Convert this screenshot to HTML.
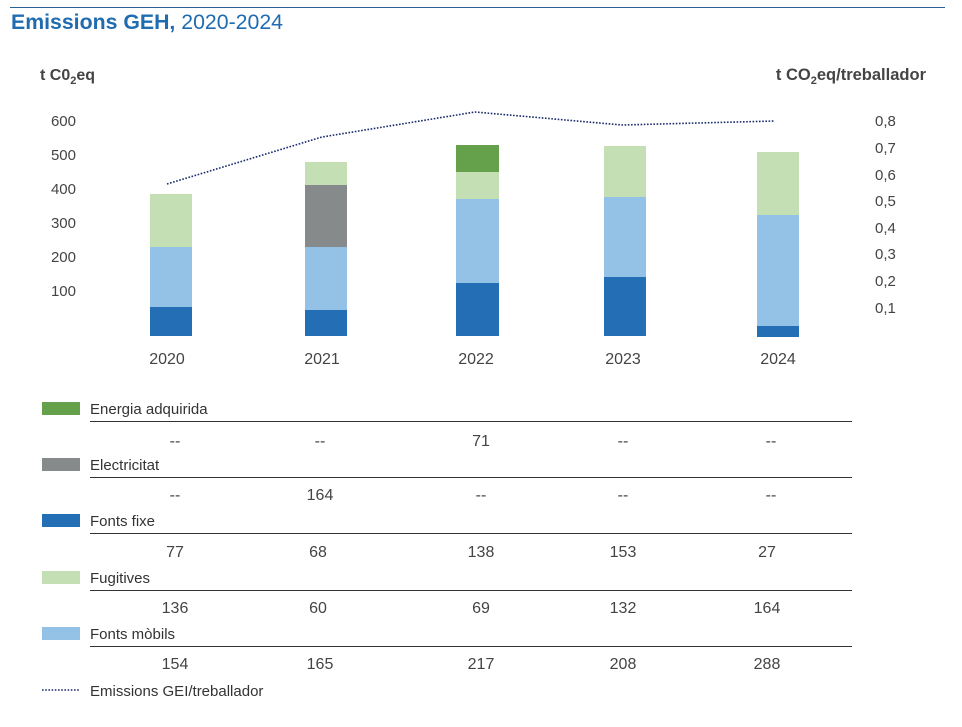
<!DOCTYPE html>
<html><head><meta charset="utf-8"><style>
body{margin:0;background:#fff;}
svg{display:block;font-family:"Liberation Sans",sans-serif;}
</style></head><body>
<svg width="962" height="727" viewBox="0 0 962 727" xmlns="http://www.w3.org/2000/svg">
<line x1="10" y1="7.5" x2="945" y2="7.5" stroke="#2a5f97" stroke-width="1"/>
<text x="11" y="29" font-size="21" fill="#1f6cb0" textLength="272" lengthAdjust="spacingAndGlyphs"><tspan font-weight="bold">Emissions GEH,</tspan> 2020-2024</text>
<text x="40" y="80" font-size="16" font-weight="bold" fill="#444">t C0<tspan font-size="11" dy="4">2</tspan><tspan dy="-4">eq</tspan></text>
<text x="926" y="80" font-size="16.5" font-weight="bold" fill="#444" text-anchor="end">t CO<tspan font-size="11" dy="4">2</tspan><tspan dy="-4">eq/treballador</tspan></text>
<g font-size="15" fill="#444" text-anchor="end">
<text x="76" y="126">600</text><text x="76" y="160">500</text><text x="76" y="194">400</text><text x="76" y="228">300</text><text x="76" y="262">200</text><text x="76" y="296">100</text>
</g>
<g font-size="15" fill="#444">
<text x="875" y="126">0,8</text><text x="875" y="153">0,7</text><text x="875" y="180">0,6</text><text x="875" y="206">0,5</text><text x="875" y="233">0,4</text><text x="875" y="259">0,3</text><text x="875" y="286">0,2</text><text x="875" y="313">0,1</text>
</g>
<g>
<rect x="150" y="194" width="42" height="53" fill="#c5dfb5"/><rect x="150" y="247" width="42" height="60" fill="#94c1e6"/><rect x="150" y="307" width="42" height="29" fill="#236eb5"/>
<rect x="305" y="162" width="42" height="23" fill="#c5dfb5"/><rect x="305" y="185" width="42" height="62" fill="#878a8b"/><rect x="305" y="247" width="42" height="63" fill="#94c1e6"/><rect x="305" y="310" width="42" height="26" fill="#236eb5"/>
<rect x="456" y="145" width="43" height="27" fill="#65a04a"/><rect x="456" y="172" width="43" height="27" fill="#c5dfb5"/><rect x="456" y="199" width="43" height="84" fill="#94c1e6"/><rect x="456" y="283" width="43" height="53" fill="#236eb5"/>
<rect x="604" y="146" width="42" height="51" fill="#c5dfb5"/><rect x="604" y="197" width="42" height="80" fill="#94c1e6"/><rect x="604" y="277" width="42" height="59" fill="#236eb5"/>
<rect x="757" y="152" width="42" height="63" fill="#c5dfb5"/><rect x="757" y="215" width="42" height="111" fill="#94c1e6"/><rect x="757" y="326" width="42" height="11" fill="#236eb5"/>
</g>
<polyline points="167,184 322,137 475,112 622,125 775,121" fill="none" stroke="#1a2a6c" stroke-width="1.6" stroke-dasharray="1.6,1.6"/>
<g font-size="16" fill="#444" text-anchor="middle">
<text x="167" y="364">2020</text><text x="322" y="364">2021</text><text x="476" y="364">2022</text><text x="623" y="364">2023</text><text x="778" y="364">2024</text>
</g>
<g font-size="15" fill="#333">
<rect x="42" y="402" width="38" height="13" fill="#65a04a"/><text x="90" y="414">Energia adquirida</text>
<line x1="90" y1="421.5" x2="852" y2="421.5" stroke="#333"/>
<rect x="42" y="458" width="38" height="13" fill="#878a8b"/><text x="90" y="470">Electricitat</text>
<line x1="90" y1="477.5" x2="852" y2="477.5" stroke="#333"/>
<rect x="42" y="514" width="38" height="13" fill="#236eb5"/><text x="90" y="526">Fonts fixe</text>
<line x1="90" y1="533.5" x2="852" y2="533.5" stroke="#333"/>
<rect x="42" y="571" width="38" height="13" fill="#c5dfb5"/><text x="90" y="583">Fugitives</text>
<line x1="90" y1="590.5" x2="852" y2="590.5" stroke="#333"/>
<rect x="42" y="627" width="38" height="13" fill="#94c1e6"/><text x="90" y="639">Fonts mòbils</text>
<line x1="90" y1="646.5" x2="852" y2="646.5" stroke="#333"/>
<line x1="42" y1="690" x2="80" y2="690" stroke="#1a2a6c" stroke-width="1.6" stroke-dasharray="1.6,1.6"/><text x="90" y="696">Emissions GEI/treballador</text>
</g>
<g font-size="16" fill="#444" text-anchor="middle">
<text x="175" y="446">--</text><text x="320" y="446">--</text><text x="481" y="446">71</text><text x="623" y="446">--</text><text x="771" y="446">--</text>
<text x="175" y="500">--</text><text x="320" y="500">164</text><text x="481" y="500">--</text><text x="623" y="500">--</text><text x="771" y="500">--</text>
<text x="175" y="557">77</text><text x="318" y="557">68</text><text x="481" y="557">138</text><text x="623" y="557">153</text><text x="767" y="557">27</text>
<text x="175" y="613">136</text><text x="318" y="613">60</text><text x="481" y="613">69</text><text x="623" y="613">132</text><text x="767" y="613">164</text>
<text x="175" y="669">154</text><text x="320" y="669">165</text><text x="481" y="669">217</text><text x="623" y="669">208</text><text x="767" y="669">288</text>
</g>
</svg>
</body></html>
